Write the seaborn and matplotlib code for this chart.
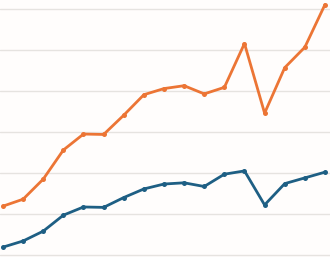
import matplotlib
matplotlib.use("Agg")
import matplotlib.pyplot as plt
import seaborn as sns
import pandas as pd

x_index = list(range(17))
orange_values = [11.8, 13.5, 18.4, 25.5, 29.4, 29.3, 34.0, 39.0, 40.5, 41.2, 39.2, 40.8, 51.5, 34.5, 45.6, 50.6, 61.0]
blue_values = [1.8, 3.3, 5.7, 9.6, 11.6, 11.5, 13.9, 16.0, 17.2, 17.5, 16.6, 19.6, 20.4, 12.1, 17.3, 18.7, 20.1]
y_ticks = [0, 10, 20, 30, 40, 50, 60]

df = pd.DataFrame({
    "x": x_index * 2,
    "value": orange_values + blue_values,
    "series": ["orange"] * 17 + ["blue"] * 17,
})

sns.set_theme(style="white")
fig = plt.figure(figsize=(3.30, 2.57), dpi=100)
fig.patch.set_facecolor("#fffdfc")
ax = fig.add_axes([0, 0, 1, 1])
ax.set_facecolor("#fffdfc")

sns.lineplot(data=df, x="x", y="value", hue="series",
             palette={"orange": "#ec7535", "blue": "#1e5f84"},
             marker="o", markersize=3.6, markeredgewidth=0,
             linewidth=2, legend=False, ax=ax, zorder=3)

ax.set_yticks(y_ticks)
ax.yaxis.grid(True, color="#e6e3e0", linewidth=1)
ax.set_axisbelow(True)
ax.set_xlim(-0.149, 16.25)
ax.set_ylim(-0.61, 62.12)
ax.set_xlabel("")
ax.set_ylabel("")
ax.tick_params(left=False, bottom=False, labelleft=False, labelbottom=False)
for s in ax.spines.values():
    s.set_visible(False)

fig.savefig("out.png", dpi=100, facecolor=fig.get_facecolor())
